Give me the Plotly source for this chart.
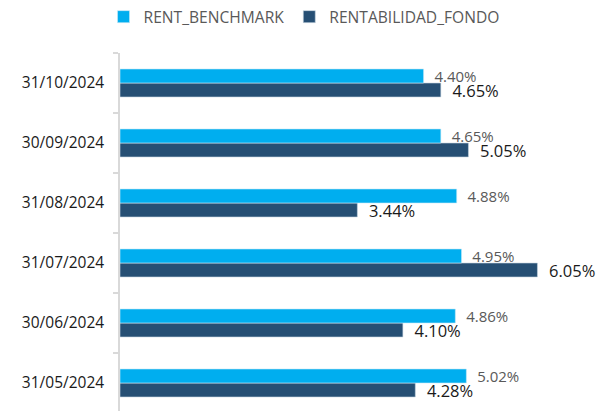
import plotly.graph_objects as go

fechas = ["31/05/2024", "30/06/2024", "31/07/2024", "31/08/2024", "30/09/2024", "31/10/2024"]
rent_benchmark = [5.02, 4.86, 4.95, 4.88, 4.65, 4.40]
rentabilidad_fondo = [4.28, 4.10, 6.05, 3.44, 5.05, 4.65]

FONT = "Open Sans"

fig = go.Figure()
fig.add_trace(go.Bar(
    y=fechas, x=rentabilidad_fondo, orientation="h", name="RENTABILIDAD_FONDO",
    marker=dict(color="#264F74", line=dict(color="#c9d6e3", width=0.6)),
    texttemplate="  %{x:.2f}%", textposition="outside", cliponaxis=False,
    constraintext="none",
    textfont=dict(family=FONT, size=16.5, color="#1a1a1a"),
    legendrank=2, hoverinfo="skip",
))
fig.add_trace(go.Bar(
    y=fechas, x=rent_benchmark, orientation="h", name="RENT_BENCHMARK",
    marker=dict(color="#00AEEF", line=dict(color="#c9e9f7", width=0.6)),
    texttemplate="  %{x:.2f}%", textposition="outside", cliponaxis=False,
    constraintext="none",
    textfont=dict(family=FONT, size=15, color="#595959"),
    legendrank=1, hoverinfo="skip",
))

fig.update_layout(
    width=613, height=411,
    margin=dict(l=112, r=18, t=45, b=6, autoexpand=False),
    paper_bgcolor="white", plot_bgcolor="white",
    barmode="group", bargap=0.533, bargroupgap=0,
    font=dict(family=FONT, color="#262626"),
    uniformtext=dict(mode=False),
    legend=dict(
        orientation="h", x=0.381, xanchor="center",
        yref="container", y=1 - 9 / 411, yanchor="middle",
        font=dict(family=FONT, size=15.6, color="#595959"),
        itemclick=False, tracegroupgap=0,
    ),
    showlegend=True,
)
fig.update_xaxes(range=[0, 7], visible=False, showgrid=False, zeroline=False, automargin=False)
fig.update_yaxes(
    type="category", categoryorder="array", categoryarray=fechas,
    range=[-0.5, 5.5], automargin=False,
    showline=True, linecolor="#d9d9d9", linewidth=1.5,
    ticks="outside", tickson="boundaries", ticklen=5, tickcolor="#d9d9d9", tickwidth=1.5,
    showgrid=False, zeroline=False,
    tickfont=dict(family=FONT, size=15.5, color="#1a1a1a"),
    ticklabelstandoff=11,
)

fig.write_html("out.html")
